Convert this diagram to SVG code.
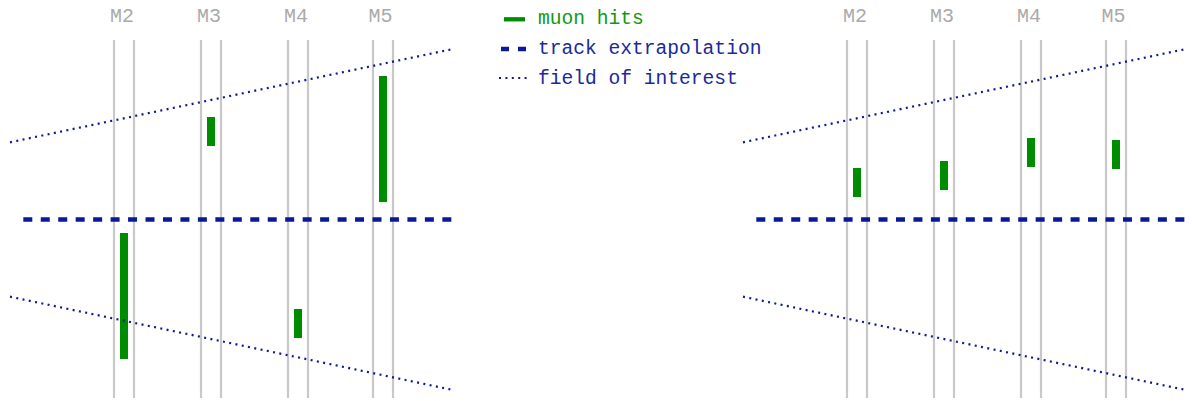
<svg xmlns="http://www.w3.org/2000/svg" width="1192" height="401" viewBox="0 0 1192 401">
<style>
.st{stroke:#c8c8c8;stroke-width:2.2;fill:none}
.lbl{font-family:"Liberation Mono","Courier New",monospace;font-size:20px;fill:#aaaaaa;text-anchor:middle}
.hit{fill:#008c00}
.trk{stroke:#0a1a96;stroke-width:4.3;stroke-dasharray:9 8.46;fill:none}
.foi{stroke:#0a1a96;stroke-width:2.2;stroke-dasharray:2 4.4;fill:none}
.leg{font-family:"Liberation Mono","Courier New",monospace;font-size:19.6px;fill:#1a2a9a}
</style>
<defs>
<g id="stations">
<line class="st" x1="114" y1="40" x2="114" y2="398"/>
<line class="st" x1="134" y1="40" x2="134" y2="398"/>
<line class="st" x1="201" y1="40" x2="201" y2="398"/>
<line class="st" x1="221" y1="40" x2="221" y2="398"/>
<line class="st" x1="288" y1="40" x2="288" y2="398"/>
<line class="st" x1="308" y1="40" x2="308" y2="398"/>
<line class="st" x1="373" y1="40" x2="373" y2="398"/>
<line class="st" x1="393" y1="40" x2="393" y2="398"/>
<text class="lbl" x="122" y="22">M2</text>
<text class="lbl" x="209" y="22">M3</text>
<text class="lbl" x="296" y="22">M4</text>
<text class="lbl" x="380.5" y="22">M5</text>
</g>
<g id="lines">
<line class="trk" x1="23.3" y1="219.5" x2="451.5" y2="219.5"/>
<line class="foi" x1="10" y1="142.3" x2="453" y2="49"/>
<line class="foi" x1="10" y1="296.7" x2="453" y2="390"/>
</g>
</defs>
<g id="left-panel">
<use href="#stations"/>
<g id="left-hits">
<rect class="hit" x="207" y="117" width="8" height="29"/>
<rect class="hit" x="379" y="76" width="8" height="126"/>
<rect class="hit" x="120" y="233" width="8" height="126"/>
<rect class="hit" x="294" y="309" width="8" height="29"/>
</g>
</g>
<g id="right-panel" transform="translate(733,0)">
<use href="#stations"/>
<g id="right-hits">
<rect class="hit" x="120" y="168" width="8" height="29"/>
<rect class="hit" x="207" y="161" width="8" height="29"/>
<rect class="hit" x="294" y="138" width="8" height="29"/>
<rect class="hit" x="379" y="140" width="8" height="29"/>
</g>
</g>
<g id="connectors">
<use href="#lines"/>
<use href="#lines" transform="translate(733,0)"/>
</g>
<g id="legend">
<line x1="504" y1="19.3" x2="525" y2="19.3" stroke="#008c00" stroke-width="4.3"/>
<text class="leg" x="538" y="24" style="fill:#109a10">muon hits</text>
<line x1="501" y1="49" x2="527" y2="49" stroke="#0a1a96" stroke-width="4.3" stroke-dasharray="8 9"/>
<text class="leg" x="538" y="54">track extrapolation</text>
<line x1="499" y1="78" x2="530" y2="78" stroke="#0a1a96" stroke-width="2.2" stroke-dasharray="2 4.4"/>
<text class="leg" x="538" y="84">field of interest</text>
</g>
</svg>
